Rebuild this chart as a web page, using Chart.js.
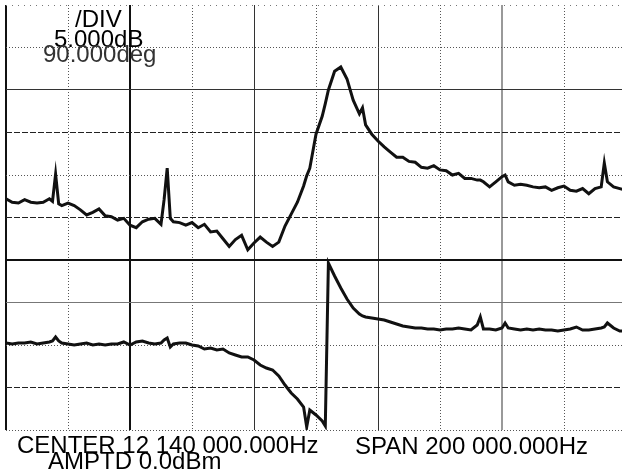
<!DOCTYPE html>
<html>
<head>
<meta charset="utf-8">
<style>
  html, body { margin: 0; padding: 0; overflow: hidden; background: #fff; }
  canvas { display: block; }
</style>
</head>
<body>
<canvas id="plot" width="630" height="474"></canvas>
<script src="https://cdn.jsdelivr.net/npm/chart.js@4/dist/chart.umd.min.js"></script>
<script>
// sweep frequencies, kHz (center 12140 kHz, span 200 kHz)
const freqKHz = [
  12040, 12042, 12044, 12046, 12048, 12050, 12052, 12054, 12055, 12056,
  12057, 12058, 12060, 12062, 12064, 12066, 12068, 12070, 12072, 12074,
  12076, 12078, 12080, 12082, 12084, 12086, 12088, 12090, 12091, 12092,
  12093, 12094, 12096, 12098, 12100, 12102, 12104, 12106, 12108, 12110,
  12112, 12114, 12116, 12118, 12120, 12122, 12124, 12126, 12128, 12130,
  12132, 12134, 12136, 12137, 12138, 12140, 12142, 12143, 12144, 12146,
  12148, 12150, 12152, 12154, 12155, 12156, 12158, 12160, 12162, 12164,
  12166, 12168, 12170, 12172, 12174, 12176, 12178, 12180, 12182, 12184,
  12186, 12188, 12190, 12192, 12193, 12194, 12196, 12198, 12200, 12201,
  12202, 12204, 12206, 12208, 12210, 12212, 12214, 12216, 12218, 12220,
  12222, 12224, 12226, 12228, 12230, 12232, 12233, 12234, 12236, 12238,
  12240
];

// magnitude trace, dB (5 dB/div)
const magDb = [
  -22.8, -23.2, -23.3, -22.9, -23.2, -23.3, -23.2, -22.8, -23.1, -19.9,
  -23.4, -23.6, -23.3, -23.6, -24.1, -24.7, -24.4, -24.0, -24.8, -24.9,
  -25.3, -25.1, -25.9, -26.2, -25.5, -25.2, -25.1, -25.8, -22.9, -19.2,
  -25.1, -25.5, -25.6, -25.9, -25.6, -26.2, -25.8, -26.7, -26.6, -27.5,
  -28.4, -27.6, -27.1, -28.8, -28.0, -27.3, -27.9, -28.4, -27.9, -26.0,
  -24.6, -23.2, -21.3, -20.1, -19.2, -15.2, -13.1, -11.6, -10.0, -7.8,
  -7.3, -8.7, -11.2, -12.8, -12.1, -14.1, -15.2, -16.0, -16.7, -17.3,
  -17.9, -17.9, -18.4, -18.5, -19.1, -19.2, -18.9, -19.4, -19.5, -20.0,
  -19.8, -20.4, -20.4, -20.6, -20.6, -20.8, -21.4, -20.8, -20.2, -20.0,
  -20.8, -21.2, -21.1, -21.2, -21.4, -21.5, -21.4, -21.8, -21.5, -21.3,
  -21.8, -21.9, -21.6, -22.2, -21.6, -21.4, -18.6, -20.8, -21.4, -21.6,
  -21.8
];

// phase trace, degrees (90 deg/div)
const phaseDeg = [
  4.2, 2.1, 4.2, 4.2, 6.4, 2.1, 4.2, 6.4, 8.5, 16.9,
  8.5, 4.2, 2.1, 0.0, 2.1, 4.2, 0.0, 2.1, 0.0, 2.1,
  2.1, 6.4, 0.0, 6.4, 8.5, 4.2, 2.1, 4.2, 10.6, 14.8,
  -4.2, 2.1, 4.2, 4.2, 0.0, -2.1, -8.5, -6.4, -10.6, -8.5,
  -16.9, -21.2, -25.4, -25.4, -31.8, -42.4, -48.7, -52.9, -65.6, -84.7,
  -101.6, -114.4, -131.3, -173.6, -137.6, -148.2, -160.9, -171.5, 173.6, 146.1,
  120.7, 97.4, 78.4, 65.6, 61.4, 59.3, 57.2, 55.1, 52.9, 48.7,
  44.5, 40.2, 38.1, 36.0, 36.0, 33.9, 33.9, 31.8, 33.9, 33.9,
  36.0, 33.9, 31.8, 42.4, 59.3, 33.9, 33.9, 31.8, 36.0, 46.6,
  36.0, 33.9, 31.8, 33.9, 31.8, 33.9, 31.8, 31.8, 29.6, 31.8,
  33.9, 38.1, 31.8, 31.8, 33.9, 36.0, 38.1, 46.6, 36.0, 29.6,
  29.6
];

const headerLines = ["/DIV", "5.000dB", "90.000deg"];
const centerText = "CENTER 12 140 000.000Hz";
const amptdText = "AMPTD 0.0dBm";
const spanText = "SPAN 200 000.000Hz";

// grid line looks, one per division line
const xGridKinds = ["bold", "dot", "bold", "dot", "solid", "dot", "solid", "dot", "gray", "dot", "dot"];
const yGridKinds = ["dot", "dash", "dot", "gray1", "bold", "dash", "dot", "dash", "solid", "dot", "sparse"];
const looks = {
  dot:    { color: "#555", width: 1, dash: [1, 2] },
  sparse: { color: "#777", width: 1, dash: [1, 5] },
  dash:   { color: "#222", width: 1, dash: [6, 2] },
  solid:  { color: "#333", width: 1, dash: [] },
  gray1:  { color: "#777", width: 1, dash: [] },
  bold:   { color: "#111", width: 2, dash: [] },
  gray:   { color: "#999", width: 2, dash: [] }
};
const look = (kinds, ctx) => looks[kinds[ctx.index] || "dot"];

const toPoints = (vals) => vals.map((v, i) => ({ x: freqKHz[i], y: v }));

const textPlugin = {
  id: "analyzerText",
  afterDraw(chart) {
    const c = chart.ctx;
    c.save();
    c.textBaseline = "alphabetic";
    c.textAlign = "left";
    c.font = '24px "Liberation Sans", Arial, sans-serif';
    c.fillStyle = "#000";
    c.fillText(headerLines[0], 75, 27);
    c.fillText(headerLines[1], 54, 47);
    c.fillStyle = "#333";
    c.fillText(headerLines[2], 43, 62);
    c.fillStyle = "#000";
    c.fillText(centerText, 17, 453);
    c.fillText(amptdText, 48, 469);
    c.fillText(spanText, 355, 454);
    c.restore();
  }
};

new Chart(document.getElementById("plot"), {
  type: "line",
  data: {
    datasets: [
      {
        label: "Magnitude",
        data: toPoints(magDb),
        yAxisID: "y",
        borderColor: "#111",
        borderWidth: 3,
        pointRadius: 0,
        tension: 0
      },
      {
        label: "Phase",
        data: toPoints(phaseDeg),
        yAxisID: "y2",
        borderColor: "#111",
        borderWidth: 3,
        pointRadius: 0,
        tension: 0
      }
    ]
  },
  options: {
    responsive: false,
    animation: false,
    devicePixelRatio: 1,
    layout: { padding: { left: 6, top: 5, right: 4, bottom: 44 } },
    plugins: {
      legend: { display: false },
      tooltip: { enabled: false }
    },
    scales: {
      x: {
        type: "linear",
        min: 12040,
        max: 12240,
        ticks: { display: false, stepSize: 20 },
        border: {
          display: false,
          dash: (ctx) => look(xGridKinds, ctx).dash
        },
        grid: {
          drawTicks: false,
          color: (ctx) => look(xGridKinds, ctx).color,
          lineWidth: (ctx) => look(xGridKinds, ctx).width
        }
      },
      y: {
        min: -50,
        max: 0,
        ticks: { display: false, stepSize: 5 },
        border: {
          display: false,
          dash: (ctx) => look(yGridKinds, ctx).dash
        },
        grid: {
          drawTicks: false,
          color: (ctx) => look(yGridKinds, ctx).color,
          lineWidth: (ctx) => look(yGridKinds, ctx).width
        }
      },
      y2: {
        display: false,
        min: -180,
        max: 720
      }
    }
  },
  plugins: [textPlugin]
});
</script>
</body>
</html>
